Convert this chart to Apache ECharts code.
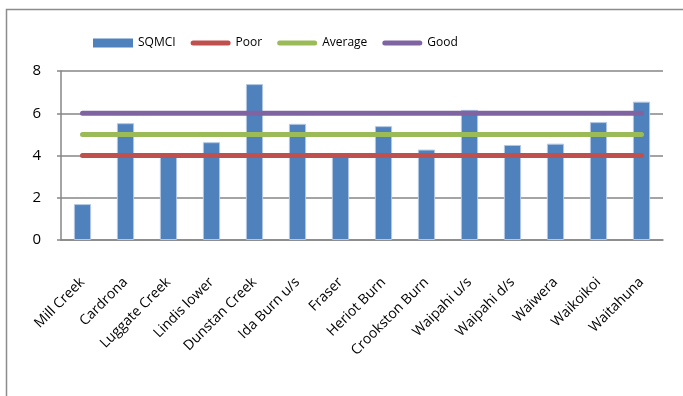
<!DOCTYPE html>
<html>
<head>
<meta charset="utf-8">
<script src="https://cdn.jsdelivr.net/npm/echarts@6/dist/echarts.min.js"></script>
<style>
  html, body { margin: 0; padding: 0; background: #ffffff; }
  #chart { width: 683px; height: 396px; }
</style>
</head>
<body>
<div id="chart"></div>
<script>
// sites
var categories = ['Mill Creek', 'Cardrona', 'Luggate Creek', 'Lindis lower', 'Dunstan Creek',
  'Ida Burn u/s', 'Fraser', 'Heriot Burn', 'Crookston Burn', 'Waipahi u/s', 'Waipahi d/s',
  'Waiwera', 'Waikoikoi', 'Waitahuna'];
// SQMCI scores
var sqmci = [1.7, 5.53, 4.0, 4.63, 7.38, 5.5, 4.0, 5.39, 4.28, 6.16, 4.5, 4.56, 5.58, 6.55];
// thresholds
var poor = [4, 4, 4, 4, 4, 4, 4, 4, 4, 4, 4, 4, 4, 4];
var average = [5, 5, 5, 5, 5, 5, 5, 5, 5, 5, 5, 5, 5, 5];
var good = [6, 6, 6, 6, 6, 6, 6, 6, 6, 6, 6, 6, 6, 6];

var font = 'Open Sans';
var lineIcon = 'path://M2.5,0 H37.5 A2.5,2.5 0 0 1 37.5,5 H2.5 A2.5,2.5 0 0 1 2.5,0 Z';
var chart = echarts.init(document.getElementById('chart'));

function refLine(name, data, color) {
  return {
    name: name,
    type: 'line',
    data: data,
    symbol: 'none',
    silent: true,
    lineStyle: { color: color, width: 5, cap: 'round' },
    itemStyle: { color: color }
  };
}

var option = {
  animation: false,
  graphic: [{
    type: 'rect',
    shape: { x: 6.5, y: 9.5, width: 720, height: 420 },
    style: { fill: 'none', stroke: '#8c8c8c', lineWidth: 1.5 },
    silent: true
  }],
  legend: {
    left: 88,
    top: 32,
    itemWidth: 40,
    itemHeight: 9,
    itemGap: 15,
    symbolKeepAspect: true,
    textStyle: { fontFamily: font, fontSize: 12, color: '#000' },
    data: [
      { name: 'SQMCI', icon: 'rect', itemStyle: { borderWidth: 0 } },
      { name: 'Poor', icon: lineIcon },
      { name: 'Average', icon: lineIcon },
      { name: 'Good', icon: lineIcon }
    ]
  },
  grid: { left: 61, right: 20, top: 71, bottom: 156 },
  xAxis: {
    type: 'category',
    data: categories,
    axisLine: { lineStyle: { color: '#868686', width: 1.5 } },
    axisTick: { length: 5, lineStyle: { color: '#868686', width: 1.5 } },
    axisLabel: {
      rotate: 45,
      margin: 40,
      interval: 0,
      fontFamily: font,
      fontSize: 14,
      color: '#000'
    }
  },
  yAxis: {
    type: 'value',
    min: 0,
    max: 8,
    interval: 2,
    axisLine: { show: true, lineStyle: { color: '#868686', width: 1.5 } },
    axisTick: { show: true, length: 4, lineStyle: { color: '#868686', width: 1.5 } },
    splitLine: { lineStyle: { color: '#868686', width: 1.5 } },
    axisLabel: { margin: 20, fontFamily: font, fontSize: 15, color: '#000' }
  },
  series: [{
    name: 'SQMCI',
    type: 'bar',
    data: sqmci,
    barWidth: '40%',
    itemStyle: { color: '#4F81BD', borderColor: '#b3c8e2', borderWidth: 1 }
  },
    refLine('Poor', poor, '#C0504D'),
    refLine('Average', average, '#9BBB59'),
    refLine('Good', good, '#8064A2')
  ]
};

chart.setOption(option);
window.addEventListener('resize', function () {
  chart.resize();
});
</script>
</body>
</html>
